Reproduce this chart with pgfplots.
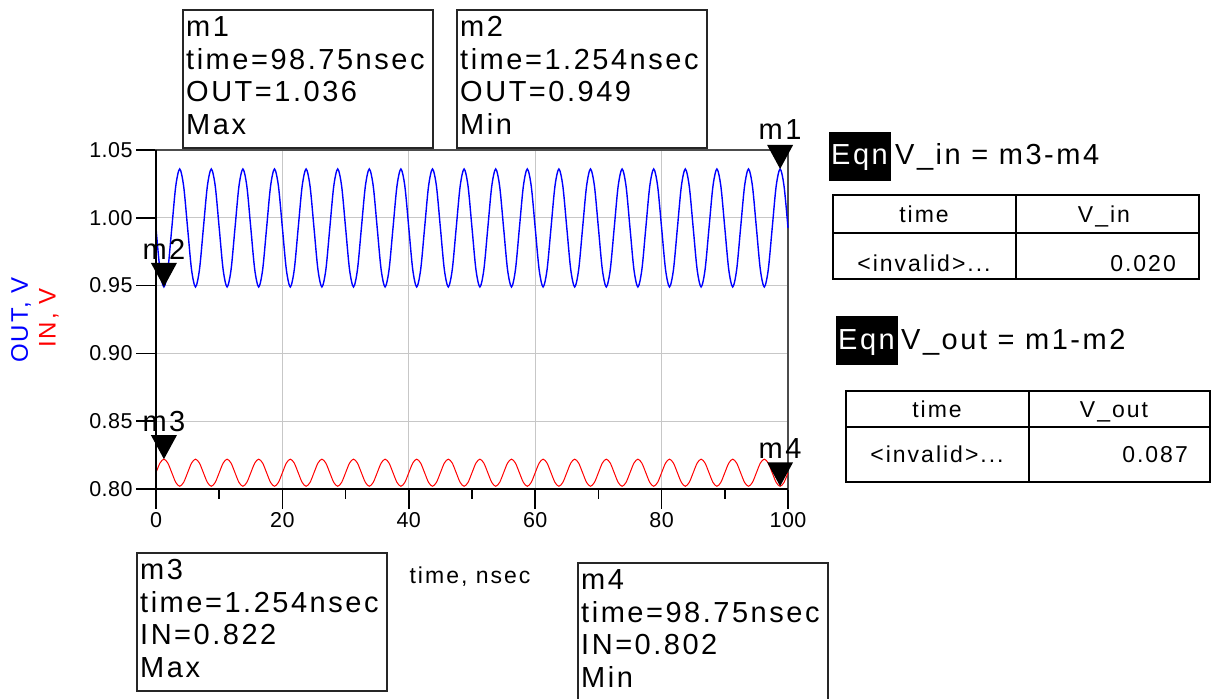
\documentclass[border=0pt]{standalone}
\usepackage{pgfplots}
\pgfplotsset{compat=1.18}
\usepackage{pgfplotstable}
\usepackage{fontspec}
\setmainfont{Liberation Sans}
\newfontfamily\ads{Liberation Sans}[LetterSpace=8.7]
\newfontfamily\adt{Liberation Sans}[LetterSpace=2]

\pgfdeclareplotmark{dtri}{%
 \pgfpathmoveto{\pgfqpoint{0bp}{0bp}}%
 \pgfpathlineto{\pgfqpoint{-13bp}{24bp}}%
 \pgfpathlineto{\pgfqpoint{13bp}{24bp}}%
 \pgfpathclose\pgfusepathqfill}

\pgfplotstableread[row sep=\\]{
t out in\\
0 0.9925 0.812\\ 0.625 0.9617 0.8191\\ 1.25 0.949 0.822\\ 1.875 0.9617 0.8191\\ 2.5 0.9925 0.812\\ 3.125 1.0233 0.8049\\ 3.75 1.036 0.802\\ 4.375 1.0233 0.8049\\
5 0.9925 0.812\\ 5.625 0.9617 0.8191\\ 6.25 0.949 0.822\\ 6.875 0.9617 0.8191\\ 7.5 0.9925 0.812\\ 8.125 1.0233 0.8049\\ 8.75 1.036 0.802\\ 9.375 1.0233 0.8049\\
10 0.9925 0.812\\ 10.625 0.9617 0.8191\\ 11.25 0.949 0.822\\ 11.875 0.9617 0.8191\\ 12.5 0.9925 0.812\\ 13.125 1.0233 0.8049\\ 13.75 1.036 0.802\\ 14.375 1.0233 0.8049\\
15 0.9925 0.812\\ 15.625 0.9617 0.8191\\ 16.25 0.949 0.822\\ 16.875 0.9617 0.8191\\ 17.5 0.9925 0.812\\ 18.125 1.0233 0.8049\\ 18.75 1.036 0.802\\ 19.375 1.0233 0.8049\\
20 0.9925 0.812\\ 20.625 0.9617 0.8191\\ 21.25 0.949 0.822\\ 21.875 0.9617 0.8191\\ 22.5 0.9925 0.812\\ 23.125 1.0233 0.8049\\ 23.75 1.036 0.802\\ 24.375 1.0233 0.8049\\
25 0.9925 0.812\\ 25.625 0.9617 0.8191\\ 26.25 0.949 0.822\\ 26.875 0.9617 0.8191\\ 27.5 0.9925 0.812\\ 28.125 1.0233 0.8049\\ 28.75 1.036 0.802\\ 29.375 1.0233 0.8049\\
30 0.9925 0.812\\ 30.625 0.9617 0.8191\\ 31.25 0.949 0.822\\ 31.875 0.9617 0.8191\\ 32.5 0.9925 0.812\\ 33.125 1.0233 0.8049\\ 33.75 1.036 0.802\\ 34.375 1.0233 0.8049\\
35 0.9925 0.812\\ 35.625 0.9617 0.8191\\ 36.25 0.949 0.822\\ 36.875 0.9617 0.8191\\ 37.5 0.9925 0.812\\ 38.125 1.0233 0.8049\\ 38.75 1.036 0.802\\ 39.375 1.0233 0.8049\\
40 0.9925 0.812\\ 40.625 0.9617 0.8191\\ 41.25 0.949 0.822\\ 41.875 0.9617 0.8191\\ 42.5 0.9925 0.812\\ 43.125 1.0233 0.8049\\ 43.75 1.036 0.802\\ 44.375 1.0233 0.8049\\
45 0.9925 0.812\\ 45.625 0.9617 0.8191\\ 46.25 0.949 0.822\\ 46.875 0.9617 0.8191\\ 47.5 0.9925 0.812\\ 48.125 1.0233 0.8049\\ 48.75 1.036 0.802\\ 49.375 1.0233 0.8049\\
50 0.9925 0.812\\ 50.625 0.9617 0.8191\\ 51.25 0.949 0.822\\ 51.875 0.9617 0.8191\\ 52.5 0.9925 0.812\\ 53.125 1.0233 0.8049\\ 53.75 1.036 0.802\\ 54.375 1.0233 0.8049\\
55 0.9925 0.812\\ 55.625 0.9617 0.8191\\ 56.25 0.949 0.822\\ 56.875 0.9617 0.8191\\ 57.5 0.9925 0.812\\ 58.125 1.0233 0.8049\\ 58.75 1.036 0.802\\ 59.375 1.0233 0.8049\\
60 0.9925 0.812\\ 60.625 0.9617 0.8191\\ 61.25 0.949 0.822\\ 61.875 0.9617 0.8191\\ 62.5 0.9925 0.812\\ 63.125 1.0233 0.8049\\ 63.75 1.036 0.802\\ 64.375 1.0233 0.8049\\
65 0.9925 0.812\\ 65.625 0.9617 0.8191\\ 66.25 0.949 0.822\\ 66.875 0.9617 0.8191\\ 67.5 0.9925 0.812\\ 68.125 1.0233 0.8049\\ 68.75 1.036 0.802\\ 69.375 1.0233 0.8049\\
70 0.9925 0.812\\ 70.625 0.9617 0.8191\\ 71.25 0.949 0.822\\ 71.875 0.9617 0.8191\\ 72.5 0.9925 0.812\\ 73.125 1.0233 0.8049\\ 73.75 1.036 0.802\\ 74.375 1.0233 0.8049\\
75 0.9925 0.812\\ 75.625 0.9617 0.8191\\ 76.25 0.949 0.822\\ 76.875 0.9617 0.8191\\ 77.5 0.9925 0.812\\ 78.125 1.0233 0.8049\\ 78.75 1.036 0.802\\ 79.375 1.0233 0.8049\\
80 0.9925 0.812\\ 80.625 0.9617 0.8191\\ 81.25 0.949 0.822\\ 81.875 0.9617 0.8191\\ 82.5 0.9925 0.812\\ 83.125 1.0233 0.8049\\ 83.75 1.036 0.802\\ 84.375 1.0233 0.8049\\
85 0.9925 0.812\\ 85.625 0.9617 0.8191\\ 86.25 0.949 0.822\\ 86.875 0.9617 0.8191\\ 87.5 0.9925 0.812\\ 88.125 1.0233 0.8049\\ 88.75 1.036 0.802\\ 89.375 1.0233 0.8049\\
90 0.9925 0.812\\ 90.625 0.9617 0.8191\\ 91.25 0.949 0.822\\ 91.875 0.9617 0.8191\\ 92.5 0.9925 0.812\\ 93.125 1.0233 0.8049\\ 93.75 1.036 0.802\\ 94.375 1.0233 0.8049\\
95 0.9925 0.812\\ 95.625 0.9617 0.8191\\ 96.25 0.949 0.822\\ 96.875 0.9617 0.8191\\ 97.5 0.9925 0.812\\ 98.125 1.0233 0.8049\\ 98.75 1.036 0.802\\ 99.375 1.0233 0.8049\\
100 0.9925 0.812\\
}\wave

\pgfplotstableread[row sep=\\]{
t v\\
98.75 1.036\\ 1.254 0.949\\ 1.254 0.822\\ 98.75 0.802\\
}\markers

\newcommand\bigf{\ads\fontsize{29bp}{32bp}\selectfont}
\newcommand\tabf{\ads\fontsize{23bp}{26bp}\selectfont}

% marker box: #1 left, #2 top (pixels from top), #3 height, #4-#7 lines
\newcommand\mkbox[7]{%
  \draw[line width=1.5bp, black!85] (#1,699-#2) rectangle ++(250,-#3);
  \node[anchor=base west, inner sep=0, font=\bigf] at (#1+3,699-#2-27) {#4};
  \node[anchor=base west, inner sep=0, font=\bigf] at (#1+3,699-#2-59.5) {#5};
  \node[anchor=base west, inner sep=0, font=\bigf] at (#1+3,699-#2-92) {#6};
  \node[anchor=base west, inner sep=0, font=\bigf] at (#1+3,699-#2-124.5) {#7};
}

\begin{document}
\begin{tikzpicture}[x=1bp,y=1bp]
\useasboundingbox (0,0) rectangle (1211,699);
\begin{axis}[
  at={(156bp,210bp)}, anchor=south west,
  scale only axis, width=632bp, height=339bp,
  xmin=0, xmax=100, ymin=0.8, ymax=1.05,
  xtick={0,20,40,60,80,100}, minor xtick={10,30,50,70,90},
  ytick={0.8,0.85,0.9,0.95,1.0,1.05},
  xtick pos=bottom, ytick pos=left,
  tick align=outside, major tick length=20bp, minor tick length=10bp,
  every tick/.style={black, line width=1.5bp},
  grid=major, major grid style={black!22, line width=1.3bp},
  axis line style={black!70, line width=1.3bp},
  /pgf/number format/assume math mode=true,
  tick label style={font=\adt\fontsize{21.5bp}{24bp}\selectfont},
  y tick label style={/pgf/number format/.cd, fixed, fixed zerofill, precision=2, /tikz/.cd},
  clip=false,
]
\addplot[blue, line width=1.4bp, smooth] table[x=t, y=out] {\wave};
\addplot[red, line width=1bp, smooth] table[x=t, y=in] {\wave};
\draw[black, line width=1.8bp] (rel axis cs:0,1) -- (rel axis cs:0,0) -- (rel axis cs:1,0);
\addplot[only marks, mark=dtri, black] table[x=t, y=v] {\markers};
\node[anchor=base, inner sep=0, font=\bigf] at (axis cs:98.75,1.036) [yshift=29bp] {m1};
\node[anchor=base, inner sep=0, font=\bigf] at (axis cs:1.254,0.949) [yshift=27bp] {m2};
\node[anchor=base, inner sep=0, font=\bigf] at (axis cs:1.254,0.822) [yshift=28bp] {m3};
\node[anchor=base, inner sep=0, font=\bigf] at (axis cs:98.75,0.802) [yshift=28bp] {m4};
\end{axis}

% axis titles
\node[rotate=90, text=blue, inner sep=0, font=\ads\fontsize{24bp}{27bp}\selectfont] at (21,699-320) {OUT, V};
\node[rotate=90, text=red, inner sep=0, font=\ads\fontsize{24bp}{27bp}\selectfont] at (49,699-318) {IN, V};
\node[anchor=base, inner sep=0, font=\ads\fontsize{23bp}{25bp}\selectfont] at (470,699-584) {time, nsec};

% marker boxes
\mkbox{183}{10}{138}{m1}{time=98.75nsec}{OUT=1.036}{Max}
\mkbox{457}{10}{138}{m2}{time=1.254nsec}{OUT=0.949}{Min}
\mkbox{137}{553}{138}{m3}{time=1.254nsec}{IN=0.822}{Max}
\mkbox{578}{563}{145}{m4}{time=98.75nsec}{IN=0.802}{Min}

% equation 1
\fill[black] (829,699-132) rectangle (891,699-181);
\node[anchor=base west, inner sep=0, text=white, font=\bigf] at (831,699-165) {Eqn};
\node[anchor=base west, inner sep=0, font=\bigf] at (895,699-165) {V\_in = m3-m4};
\draw[line width=2bp] (833,699-195) rectangle (1199,699-279);
\draw[line width=1.5bp] (1016,699-195) -- (1016,699-279);
\draw[line width=1.5bp] (833,699-233) -- (1199,699-233);
\node[anchor=base, inner sep=0, font=\tabf] at (924,699-223) {time};
\node[anchor=base, inner sep=0, font=\tabf] at (1104,699-223) {V\_in};
\node[anchor=base, inner sep=0, font=\tabf] at (924,699-272) {<invalid>...};
\node[anchor=base east, inner sep=0, font=\tabf] at (1176,699-272) {0.020};

% equation 2
\fill[black] (836,699-316) rectangle (898,699-365);
\node[anchor=base west, inner sep=0, text=white, font=\bigf] at (838,699-350) {Eqn};
\node[anchor=base west, inner sep=0, font=\bigf] at (901,699-350) {V\_out = m1-m2};
\draw[line width=2bp] (846,699-391) rectangle (1210,699-482);
\draw[line width=1.5bp] (1029,699-391) -- (1029,699-482);
\draw[line width=1.5bp] (846,699-427) -- (1210,699-427);
\node[anchor=base, inner sep=0, font=\tabf] at (937,699-418) {time};
\node[anchor=base, inner sep=0, font=\tabf] at (1114,699-418) {V\_out};
\node[anchor=base, inner sep=0, font=\tabf] at (937,699-463) {<invalid>...};
\node[anchor=base east, inner sep=0, font=\tabf] at (1188,699-463) {0.087};
\end{tikzpicture}
\end{document}
